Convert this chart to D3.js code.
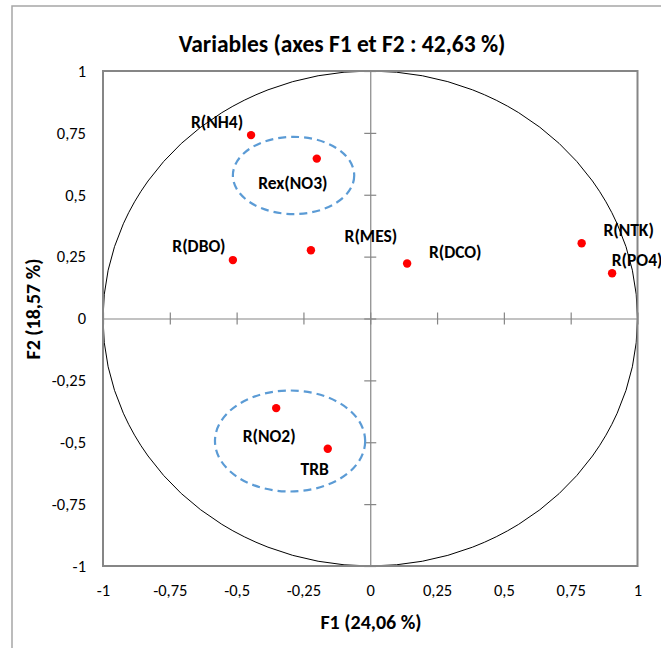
<!DOCTYPE html>
<html>
<head>
<meta charset="utf-8">
<script src="https://cdn.jsdelivr.net/npm/d3@7"></script>
<style>
  html, body { margin: 0; padding: 0; background: #fff; }
  svg { display: block; }
  text { font-family: Carlito, Lato, "Open Sans", sans-serif; fill: #000; }
</style>
</head>
<body>
<script>
// ---- data ----
const variables = ["R(NH4)", "Rex(NO3)", "R(DBO)", "R(MES)", "R(DCO)", "R(NTK)", "R(PO4)", "R(NO2)", "TRB"];
const f1 = [-0.446, -0.200, -0.514, -0.222, 0.138, 0.791, 0.905, -0.352, -0.159];
const f2 = [0.741, 0.646, 0.236, 0.276, 0.222, 0.304, 0.183, -0.362, -0.526];
// label placement (pixel offsets from the point, styling)
const labelDx = [-34, -24, -34, 60, 48, 47, 25, -7, -13];
const labelDy = [-7, 30, -8, -8, -6, -7, -7, 34, 26];
// dashed group ellipses (data units)
const groupCx = [-0.287, -0.300];
const groupCy = [0.578, -0.495];
const groupRx = [0.227, 0.281];
const groupRy = [0.156, 0.204];
const tickValues = [-1, -0.75, -0.5, -0.25, 0, 0.25, 0.5, 0.75, 1];
const titleText = "Variables (axes F1 et F2 : 42,63 %)";
const xTitle = "F1 (24,06 %)";
const yTitle = "F2 (18,57 %)";

// ---- layout ----
const W = 661, H = 648;
const pL = 103, pR = 637.5, pT = 71, pB = 566;
const svg = d3.select("body").append("svg").attr("width", W).attr("height", H);

const x = d3.scaleLinear().domain([-1, 1]).range([pL, pR]);
const y = d3.scaleLinear().domain([-1, 1]).range([pB, pT]);
const fmt = v => String(v).replace(".", ",");

// outer chart frame
svg.append("rect").attr("x", 12).attr("y", 6).attr("width", W + 20).attr("height", H + 20)
  .attr("fill", "none").attr("stroke", "#a6a6a6").attr("stroke-width", 1.5);

// title
svg.append("text").attr("x", 342).attr("y", 52).attr("text-anchor", "middle")
  .attr("font-weight", "bold").attr("font-size", 23.5).text(titleText);

// unit circle
svg.append("ellipse").attr("cx", x(0)).attr("cy", y(0))
  .attr("rx", x(1) - x(0)).attr("ry", y(0) - y(1))
  .attr("fill", "none").attr("stroke", "#000").attr("stroke-width", 1);

// zero axes with crossing ticks
const xAxisG = svg.append("g").attr("transform", `translate(0,${y(0)})`)
  .call(d3.axisBottom(x).tickValues(tickValues).tickSizeInner(6).tickSizeOuter(0).tickFormat(""));
xAxisG.selectAll(".tick line").attr("y1", -6);
const yAxisG = svg.append("g").attr("transform", `translate(${x(0)},0)`)
  .call(d3.axisLeft(y).tickValues(tickValues).tickSizeInner(6).tickSizeOuter(0).tickFormat(""));
yAxisG.selectAll(".tick line").attr("x1", 6);
[xAxisG, yAxisG].forEach(g => {
  g.selectAll("path, line").attr("stroke", "#868686").attr("stroke-width", 1.2);
});

// tick labels at the low side
const xLab = svg.append("g").attr("transform", `translate(0,${pB})`)
  .call(d3.axisBottom(x).tickValues(tickValues).tickSize(0).tickPadding(18).tickFormat(fmt));
xLab.select(".domain").remove();
xLab.selectAll("text").attr("font-size", 16.5).attr("font-family", "Carlito, Lato, sans-serif").attr("fill", "#000");
const yLab = svg.append("g").attr("transform", `translate(${pL},0)`)
  .call(d3.axisLeft(y).tickValues(tickValues).tickSize(0).tickPadding(17).tickFormat(fmt));
yLab.select(".domain").remove();
yLab.selectAll("text").attr("font-size", 16.5).attr("font-family", "Carlito, Lato, sans-serif").attr("fill", "#000");

// plot border
svg.append("rect").attr("x", pL).attr("y", pT).attr("width", pR - pL).attr("height", pB - pT)
  .attr("fill", "none").attr("stroke", "#868686").attr("stroke-width", 2);

// axis titles
svg.append("text").attr("x", 371).attr("y", 629).attr("text-anchor", "middle")
  .attr("font-weight", "bold").attr("font-size", 20).text(xTitle);
svg.append("text").attr("transform", "translate(40,309) rotate(-90)").attr("text-anchor", "middle")
  .attr("font-weight", "bold").attr("font-size", 20).text(yTitle);

// dashed group ellipses
svg.append("g").selectAll("ellipse").data(groupCx).join("ellipse")
  .attr("cx", (d) => x(d))
  .attr("cy", (d, i) => y(groupCy[i]))
  .attr("rx", (d, i) => x(groupRx[i]) - x(0))
  .attr("ry", (d, i) => y(0) - y(groupRy[i]))
  .attr("fill", "none").attr("stroke", "#5b9bd5").attr("stroke-width", 2.2)
  .attr("stroke-dasharray", "8,5");

// points
const pts = variables.map((v, i) => ({ name: v, a: f1[i], b: f2[i], dx: labelDx[i], dy: labelDy[i] }));
svg.append("g").selectAll("circle").data(pts).join("circle")
  .attr("cx", d => x(d.a)).attr("cy", d => y(d.b)).attr("r", 4.2).attr("fill", "#ff0000");

// labels
svg.append("g").selectAll("text").data(pts).join("text")
  .attr("x", d => x(d.a) + d.dx).attr("y", d => y(d.b) + d.dy)
  .attr("text-anchor", "middle").attr("font-weight", "bold").attr("font-size", 17.5)
  .text(d => d.name);
</script>
</body>
</html>
